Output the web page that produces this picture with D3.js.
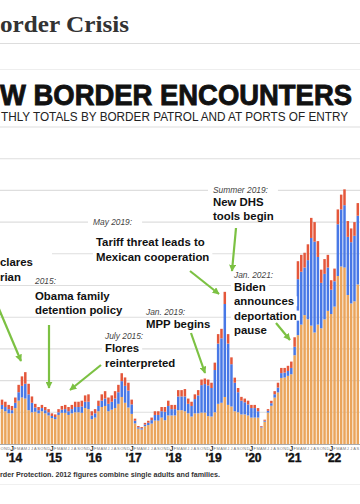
<!DOCTYPE html>
<html><head><meta charset="utf-8">
<script src="https://cdn.jsdelivr.net/npm/d3@7"></script>
<style>html,body{margin:0;padding:0;background:#fff;overflow:hidden}svg{display:block}</style>
</head><body><svg id="c" width="360" height="504"></svg>
<script>
// Monthly encounters (thousands), Oct 2013 – Sep 2022
const adults = [
 33,31,29,
 29,34,41,44,43,32,30,30.5,29,31,29,27,
 24.5,23.5,27.5,29.5,29.5,27.5,29,30,30,29.5,34,33,
 23.5,25,31,35,36,31,32.5,34,38,44.5,39,34.5,
 28.5,19.5,14.5,13.7,16.8,17.9,19.3,22.2,22.1,25,22.5,27,
 27,27,32,32,31,29,26,29,29,29.7,29.7,26.4,
 26,30,38,39,44.5,37,35.5,31,30,28,28,27,
 25,25,25,15.6,21.1,29.7,36.2,43.9,48.8,62.5,62.9,64.5,
 66,84,103,113,122,118,112,105.5,113,109.5,118,126,
 123,130,159,168,167,141,133,135,151];
const families = [
 4,4,4,
 3,5,8,11,14,15,9,4,3,3,3,3,
 2,2,2.5,3,3.5,3.5,4,5,5,6,6,7,
 3.5,4,5,6,7,7,7.5,9,11,15,16,16,
 9,2.5,1.3,1.2,1.6,2.2,3.3,5.3,5.4,6,8,9,
 6,6,13,13,14,9,10,13.5,17,26,27,29,
 27,40,57,61,88,58,40,27,19,13,11.5,10.5,
 9,9,6,0.7,0.9,1.7,2.4,3.2,4.6,4.6,4.6,4.6,
 6,8,53,50,45,56,83,86,64,43,43,41,
 23,24,49,54,59,55,58,62,65];
const children = [
 5,5,4,
 4,5,7,9,11,10,6,3.5,3,3,3,3,
 2.5,2.5,3,3.5,4,4,4,5,5,5.5,6,7,
 4,4,5,6,7,6,6,7,7,7.5,8,7.5,
 4.5,2,1.2,1.1,1.6,1.9,2.4,3.5,3.5,4,4.5,5,
 4,4,6,6,7,5,4,4.5,5,5.3,5.3,5.6,
 5,7,9,9,11.5,9,6.5,4.8,4,3.6,3.5,3.5,
 3,3,3,0.7,1,1.6,2.3,2.9,4.6,4.9,4.5,4.9,
 6,9,17,16,14,15,19,18.5,15,12.5,14,12,
 9,12,14,14,15,15,13,13,12];
const yearLabels = ["'14","'15","'16","'17","'18","'19","'20","'21","'22"];
const monthLetters = ["J","F","M","A","M","J","J","A","S","O","N","D"];
const gridValues = [30,60,90,120,150,180,210,240,270,300];
const months = d3.timeMonth.range(new Date(2013,9,1), new Date(2022,9,1));

const titleText = "order Crisis";
const headText = "W BORDER ENCOUNTERS";
const subText = "THLY TOTALS BY BORDER PATROL AND AT PORTS OF ENTRY";
const footText = "rder Protection. 2012 figures combine single adults and families.";

const noteDates = ["", "2015:", "July 2015:", "May 2019:", "Jan. 2019:", "Summer 2019:", "Jan. 2021:"];
const noteLines = [
 ["clares","rian"],
 ["Obama family","detention policy"],
 ["Flores","reinterpreted"],
 ["Tariff threat leads to","Mexican cooperation"],
 ["MPP begins"],
 ["New DHS","tools begin"],
 ["Biden","announces","deportation","pause"]
];

const colors = {adults:"#EAA55C", families:"#4878E6", children:"#E4573B"};

const svg = d3.select("#c");
const x = d3.scaleBand().domain(d3.range(months.length))
  .range([0.3625, 359.4625]).paddingInner(0.25).paddingOuter(0.125);
const y = d3.scaleLinear().domain([0,300]).range([444,127]);
const cx = i => x(i) + x.bandwidth()/2;

// header
svg.append("text").attr("x",0).attr("y",32).text(titleText)
  .attr("font-family","Liberation Serif, DejaVu Serif, serif").attr("font-weight",700)
  .attr("font-size",24).attr("fill","#333").attr("textLength",129).attr("lengthAdjust","spacingAndGlyphs");
svg.append("line").attr("x1",0).attr("x2",360).attr("y1",43.5).attr("y2",43.5).attr("stroke","#ddd");
svg.append("line").attr("x1",0).attr("x2",360).attr("y1",69.5).attr("y2",69.5).attr("stroke","#eee");
svg.append("text").attr("x",0).attr("y",104.5).text(headText)
  .attr("font-family","Liberation Sans, Arial, sans-serif").attr("font-weight",700)
  .attr("font-size",30).attr("fill","#111").attr("stroke","#111").attr("stroke-width",0.9)
  .attr("textLength",352).attr("lengthAdjust","spacingAndGlyphs");
svg.append("text").attr("x",1).attr("y",120.5).text(subText)
  .attr("font-family","Liberation Sans, Arial, sans-serif")
  .attr("font-size",13.2).attr("fill","#222")
  .attr("textLength",347).attr("lengthAdjust","spacingAndGlyphs");

// gridlines
svg.append("g").selectAll("line").data(gridValues).join("line")
  .attr("x1",0).attr("x2",360).attr("y1",d=>y(d)).attr("y2",d=>y(d))
  .attr("stroke","#dedede").attr("stroke-width",1.1);

// bars
const rows = months.map((m,i)=>({i, adults:adults[i], families:families[i], children:children[i]}));
const series = d3.stack().keys(["adults","families","children"])(rows);
svg.append("g").selectAll("g").data(series).join("g").attr("fill",s=>colors[s.key])
  .selectAll("rect").data(s=>s).join("rect")
  .attr("x",d=>x(d.data.i)).attr("width",x.bandwidth())
  .attr("y",d=>y(d[1])).attr("height",d=>y(d[0])-y(d[1]));

// axis
svg.append("line").attr("x1",0).attr("x2",360).attr("y1",y(0)+0.5).attr("y2",y(0)+0.5)
  .attr("stroke","#aaa").attr("stroke-width",1);
const ax = svg.append("g");
months.forEach((m,i)=>{
  const jan = m.getMonth()===0;
  ax.append("text").attr("x",cx(i)).attr("y",jan?451:449.5).attr("text-anchor","middle")
    .attr("font-family","Liberation Sans, Arial, sans-serif")
    .attr("font-size",jan?6.5:4).attr("font-weight",jan?700:400)
    .attr("fill",jan?"#222":"#777").text(monthLetters[m.getMonth()]);
});
const janIdx = months.map((m,i)=>m.getMonth()===0?i:-1).filter(i=>i>=0);
janIdx.forEach((i,k)=>{
  ax.append("text").attr("x",cx(i)+2).attr("y",461.5).attr("text-anchor","middle")
    .attr("font-family","Liberation Sans, Arial, sans-serif").attr("font-weight",700)
    .attr("font-size",12).attr("fill","#111").attr("stroke","#111").attr("stroke-width",0.4)
    .text(yearLabels[k]);
});

// footer
svg.append("text").attr("x",0).attr("y",477).text(footText)
  .attr("font-family","Liberation Sans, Arial, sans-serif").attr("font-weight",700)
  .attr("font-size",8).attr("fill","#333")
  .attr("textLength",220).attr("lengthAdjust","spacingAndGlyphs");
svg.append("line").attr("x1",0).attr("x2",360).attr("y1",484.5).attr("y2",484.5).attr("stroke","#f0f0f0");

// annotations (layout)
const noteLayout = [
  {x:0,   dateY:null, y:266, dy:15},
  {x:35,  dateY:284, y:300, dy:14},
  {x:105, dateY:339, y:352, dy:15},
  {x:96,  dateY:225, y:246, dy:15},
  {x:146, dateY:315, y:328, dy:14},
  {x:213, dateY:193, y:206, dy:14},
  {x:234, dateY:278, y:291, dy:14.3}
];
const ng = svg.append("g");
function addText(str, xx, yy, italic, extraLeft){
  const g = ng.append("g");
  const t = g.append("text").attr("x",xx).attr("y",yy).text(str)
    .attr("font-family","Liberation Sans, Arial, sans-serif")
    .attr("font-size",italic?8.4:11.4)
    .attr("font-weight",italic?400:700)
    .attr("font-style",italic?"italic":"normal")
    .attr("fill",italic?"#444":"#111");
  const b = t.node().getBBox();
  const pl = (italic?5:3) + (extraLeft||0), pr = italic?10:3;
  g.insert("rect","text").attr("x",b.x-pl).attr("y",b.y+1).attr("width",b.width+pl+pr)
    .attr("height",b.height-2).attr("fill","#fff");
}
noteLayout.forEach((L,k)=>{
  if(L.dateY!==null && noteDates[k]) addText(noteDates[k], L.x+ (k===3?-3:0), L.dateY, true);
  noteLines[k].forEach((s,j)=>addText(s, L.x, L.y + j*L.dy, false));
});
// hidden-date gap of first note (gridline interrupted at left)
ng.append("rect").attr("x",0).attr("y",250).attr("width",52).attr("height",6).attr("fill","#fff");

// arrows
const defs = svg.append("defs");
defs.append("marker").attr("id","ah").attr("viewBox","0 0 10 10").attr("refX",9).attr("refY",5)
  .attr("markerWidth",7).attr("markerHeight",7).attr("markerUnits","userSpaceOnUse")
  .attr("orient","auto").append("path").attr("d","M0,0L10,5L0,10z").attr("fill","#7CC143");
const arrows = [
  [[-1,309],[21,361]],
  [[49,325],[49,388]],
  [[101,365],[70,390]],
  [[190,271],[219,294]],
  [[191,333],[205,373]],
  [[236,228],[232,271]],
  [[276,323],[290,340]]
];
svg.append("g").selectAll("line").data(arrows).join("line")
  .attr("x1",d=>d[0][0]).attr("y1",d=>d[0][1]).attr("x2",d=>d[1][0]).attr("y2",d=>d[1][1])
  .attr("stroke","#7CC143").attr("stroke-width",2.2).attr("marker-end","url(#ah)");
</script></body></html>
